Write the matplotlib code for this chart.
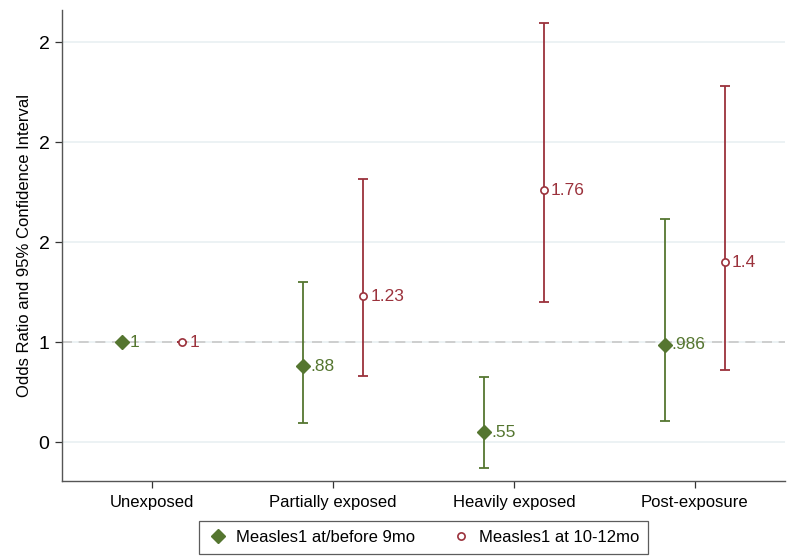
import matplotlib.pyplot as plt
import numpy as np

plt.rcParams['font.family'] = ['Liberation Sans', 'DejaVu Sans']

categories = ['Unexposed', 'Partially exposed', 'Heavily exposed', 'Post-exposure']

# Measles1 at/before 9mo
early_or = [1.0, 0.88, 0.55, 0.986]
early_lo = [1.0, 0.595, 0.37, 0.605]
early_hi = [1.0, 1.30, 0.825, 1.615]
early_lbl = ['1', '.88', '.55', '.986']

# Measles1 at 10-12mo
late_or = [1.0, 1.23, 1.76, 1.4]
late_lo = [1.0, 0.83, 1.20, 0.86]
late_hi = [1.0, 1.815, 2.595, 2.28]
late_lbl = ['1', '1.23', '1.76', '1.4']

y_ticks = [0.5, 1.0, 1.5, 2.0, 2.5]
y_tick_labels = ['0', '1', '2', '2', '2']

GREEN = '#557630'
RED = '#9b323c'


def create():
    fig = plt.figure(figsize=(7.92, 5.59), dpi=100)
    ax = fig.add_axes([0.0783, 0.1395, 0.913, 0.8426])

    x = np.arange(1, len(categories) + 1)
    shift = 0.166

    # grid and reference line
    for t in y_ticks:
        ax.axhline(t, color='#e9f0f2', linewidth=1.2, zorder=0)
    ax.axhline(1, color='#c8c8c8', linewidth=1.2, linestyle=(0, (6, 4)), zorder=1)

    e_or = np.array(early_or)
    l_or = np.array(late_or)
    ax.errorbar(x - shift, e_or,
                yerr=[e_or - np.array(early_lo), np.array(early_hi) - e_or],
                fmt='none', ecolor=GREEN, elinewidth=1.3, capsize=3.9, capthick=1.3, zorder=2)
    ax.plot(x - shift, e_or, linestyle='none', marker='D', markersize=7.6,
            color=GREEN, zorder=3, label='Measles1 at/before 9mo')

    ax.errorbar(x + shift, l_or,
                yerr=[l_or - np.array(late_lo), np.array(late_hi) - l_or],
                fmt='none', ecolor=RED, elinewidth=1.3, capsize=3.9, capthick=1.3, zorder=2)
    ax.plot(x + shift, l_or, linestyle='none', marker='o', markersize=5.2,
            markerfacecolor='white', markeredgecolor=RED, markeredgewidth=1.2,
            zorder=3, label='Measles1 at 10-12mo')

    for xi, yi, s in zip(x - shift, early_or, early_lbl):
        ax.annotate(s, (xi, yi), xytext=(5, 0), textcoords='offset points',
                    va='center', ha='left', color=GREEN, fontsize=12.5)
    for xi, yi, s in zip(x + shift, late_or, late_lbl):
        ax.annotate(s, (xi, yi), xytext=(5, 0), textcoords='offset points',
                    va='center', ha='left', color=RED, fontsize=12.5)

    ax.set_xlim(0.5, 4.5)
    ax.set_ylim(0.305, 2.66)
    ax.set_xticks(x)
    ax.set_xticklabels(categories, fontsize=12)
    ax.set_yticks(y_ticks)
    ax.set_yticklabels(y_tick_labels, fontsize=14)
    ax.set_ylabel('Odds Ratio and 95% Confidence Interval', fontsize=12, labelpad=5)

    for side in ['top', 'right']:
        ax.spines[side].set_visible(False)
    for side in ['left', 'bottom']:
        ax.spines[side].set_color('#555555')
        ax.spines[side].set_linewidth(1.0)
    ax.tick_params(axis='both', colors='#333333', length=5, width=0.9)
    ax.tick_params(axis='x', labelcolor='black', pad=5)
    ax.tick_params(axis='y', labelcolor='black', pad=4)

    leg = fig.legend(loc='lower center', bbox_to_anchor=(0.535, -0.006), ncol=2,
                     frameon=True, fancybox=False, fontsize=12, handletextpad=0.5,
                     columnspacing=2.1, borderpad=0.55, handlelength=1.2)
    leg.get_frame().set_edgecolor('#333333')
    leg.get_frame().set_linewidth(0.9)

    fig.savefig('out.png', dpi=100)


if __name__ == "__main__":
    create()
